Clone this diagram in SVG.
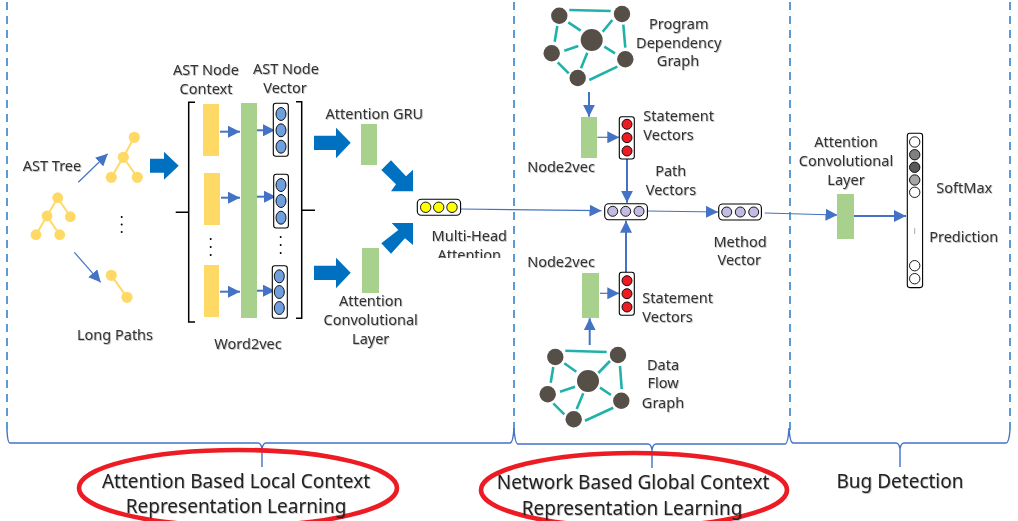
<svg xmlns="http://www.w3.org/2000/svg" width="1018" height="521" viewBox="0 0 1018 521">
<style>
text{font-family:"Noto Sans","Liberation Sans",sans-serif;font-size:14.5px;fill:#333;text-anchor:middle;filter:url(#soft)}
.big{font-size:19px;fill:#222}
.s{text-anchor:start}
.dash{fill:none;stroke:#5b9bd5;stroke-width:2;stroke-dasharray:8 6;stroke-dashoffset:12}
.brace{fill:none;stroke:#4472c4;stroke-width:1.4}
.ring{fill:none;stroke:#ed1c24;stroke-width:4.600}
.c{fill:none;stroke:#4472c4;stroke-width:1.2;marker-end:url(#head)}
.t{fill:none;stroke:#4472c4;stroke-width:2;marker-end:url(#head)}
.big-arrow{fill:#0070c0}
.g{fill:#a9d18e}
.y{fill:#ffd966}
.yl{stroke:#ffd966;stroke-width:2;fill:none}
.box{fill:#fff;stroke:#000;stroke-width:1.1}
.b{fill:#6f9fdc;stroke:#000;stroke-width:.9}
.r{fill:#ed1c24;stroke:#000;stroke-width:.9}
.p{fill:#c4bbe3;stroke:#000;stroke-width:.9}
.ye{fill:#ff0;stroke:#000;stroke-width:.9}
.w{stroke:#000;stroke-width:.9}
.br{fill:none;stroke:#000;stroke-width:1.5}
.dot{fill:#000}
.ge{stroke:#20b2aa;stroke-width:2.600;fill:none}
.gn{fill:#564f48}
</style>
<defs>
<filter id="soft" x="-5%" y="-10%" width="110%" height="125%"><feDropShadow dx="0.8" dy="0.8" stdDeviation="0.7" flood-color="#000" flood-opacity="0.3"/></filter>
<marker id="head" viewBox="0 0 12 12" refX="12" refY="6" markerWidth="12" markerHeight="12" markerUnits="userSpaceOnUse" orient="auto"><path d="M0 0L12 6L0 12Z" fill="#4472c4"/></marker>
<clipPath id="cut"><rect x="420" y="225" width="100" height="33"/></clipPath>
</defs>

<g id="section-lines">
<path class="dash" d="M7 0V430M514 0V430M790 0V430M1010 0V430"/>
<path class="brace" d="M7 430Q7.500 443 10 443H258Q261 443 262 449Q263 443 266 443H510Q513 443 514 428Q515 444 518 444H648Q651 444 652 450Q653 444 656 444H785Q788 444 789 428Q790 443 793 443H896Q899 443 900 449Q901 443 904 443H1006Q1009 443 1010 430"/>
<path class="brace" d="M262 449V467M652 450V468M900 449V467"/>
</g>

<g id="connectors">
<path class="c" d="M78.300 182.300L107.700 153.700"/>
<path class="c" d="M74.300 252.300L100.700 282.300"/>
<path class="t" d="M220 131.700H240"/>
<path class="t" d="M221 197.700H240"/>
<path class="t" d="M220 291.700H240"/>
<path class="t" d="M257 130.300H275"/>
<path class="t" d="M257 196.700H276"/>
<path class="t" d="M257 290.700H275"/>
<path class="c" d="M460.700 209L601.500 210.700"/>
<path class="c" d="M647.300 211L718 212"/>
<path class="c" d="M764.700 213L837.500 215"/>
<path class="t" d="M854 216H906"/>
<path class="t" d="M589 92V116.700"/>
<path class="c" d="M597.300 137.300H619.300"/>
<path class="t" d="M627 159V202.700"/>
<path class="c" d="M600 293.300H619.300"/>
<path class="t" d="M626 273.300V220.700"/>
<path class="t" d="M589.700 345V318.300"/>
</g>

<g id="flow-arrows">
<path class="big-arrow" d="M150 158.700H164V151.700L178.700 165.700L164 179.700V172.700H150Z"/>
<path class="big-arrow" d="M314 135.700H336V127.700L350.700 142.700L336 158.300V150H314Z"/>
<path class="big-arrow" d="M314 265.700H336V257.700L350.700 272.700L336 288.300V280H314Z"/>
<path class="big-arrow" d="M391 160.300L381.300 170L396 184.300L391 191.300H413V169.700L406 176.300Z"/>
<path class="big-arrow" d="M381.300 243.300L391 253.700L405 238.300L413 245V223H391.700L398.300 230Z"/>
</g>

<g id="ast-tree">
<path class="yl" d="M57.700 197.700L47 216L36 234.700M57.700 197.700L70.300 216.700M47 216L59.700 234.700"/>
<circle class="y" cx="57.700" cy="197.700" r="5.400"/><circle class="y" cx="47" cy="216" r="5.400"/><circle class="y" cx="70.300" cy="216.700" r="5.400"/><circle class="y" cx="36" cy="234.700" r="5.400"/><circle class="y" cx="59.700" cy="234.700" r="5.400"/>
<text x="52" y="170.700">AST Tree</text>
</g>
<g id="subtree">
<path class="yl" d="M134.300 137.300L123.300 157.300L111.300 177.300M123.300 157.300L137.300 177.300"/>
<circle class="y" cx="134.300" cy="137.300" r="5.600"/><circle class="y" cx="123.300" cy="157.300" r="5.600"/><circle class="y" cx="111.300" cy="177.300" r="5.600"/><circle class="y" cx="137.300" cy="177.300" r="5.600"/>
<circle class="dot" cx="121.700" cy="217" r="1"/><circle class="dot" cx="121.700" cy="224.500" r="1"/><circle class="dot" cx="121.700" cy="232" r="1"/>
</g>
<g id="long-path">
<path class="yl" d="M111.300 275.300L127 297.300"/>
<circle class="y" cx="111.300" cy="275.300" r="5.600"/><circle class="y" cx="127" cy="297.300" r="5.600"/>
<text x="115" y="340">Long Paths</text>
</g>

<g id="word2vec-block">
<path class="br" d="M195 102.300H188.700V322H195M175.700 212.300H188.700M296 101.700H301.700V318.300H296M301.700 210.300H315"/>
<text x="206" y="75">AST Node</text><text x="206" y="94">Context</text>
<text x="286" y="74">AST Node</text><text x="285" y="92.700">Vector</text>
<rect class="y" x="203" y="104" width="16" height="52"/><rect class="y" x="204" y="173" width="16" height="52"/><rect class="y" x="204" y="265" width="15" height="52"/>
<circle class="dot" cx="210.700" cy="239" r="1"/><circle class="dot" cx="210.700" cy="247" r="1"/><circle class="dot" cx="210.700" cy="255" r="1"/>
<rect class="g" x="241" y="103" width="16" height="215"/>
<text x="248" y="349">Word2vec</text>
</g>
<g id="node-vectors">
<rect class="box" x="273.300" y="103.300" width="15" height="53" rx="2.500"/>
<ellipse class="b" cx="281" cy="114" rx="5" ry="6.500"/><ellipse class="b" cx="281" cy="130.300" rx="5" ry="6.500"/><ellipse class="b" cx="281" cy="146.700" rx="5" ry="6.500"/>
<rect class="box" x="273.700" y="174.300" width="14.700" height="53.700" rx="2.500"/>
<ellipse class="b" cx="281" cy="185" rx="5" ry="6.500"/><ellipse class="b" cx="281" cy="201" rx="5" ry="6.500"/><ellipse class="b" cx="281" cy="217.700" rx="5" ry="6.500"/>
<circle class="dot" cx="280.700" cy="237" r="1"/><circle class="dot" cx="280.700" cy="245" r="1"/><circle class="dot" cx="280.700" cy="253" r="1"/>
<rect class="box" x="272.300" y="265.700" width="15" height="52.600" rx="2.500"/>
<ellipse class="b" cx="279.300" cy="276.300" rx="5" ry="6.500"/><ellipse class="b" cx="279.300" cy="292" rx="5" ry="6.500"/><ellipse class="b" cx="279.300" cy="308" rx="5" ry="6.500"/>
</g>

<g id="attention-gru"><rect class="g" x="361" y="124" width="16" height="41"/><text x="374.300" y="119">Attention GRU</text></g>
<g id="attention-conv"><rect class="g" x="362" y="248" width="17" height="45"/><text x="370.700" y="306">Attention</text><text x="370.700" y="325">Convolutional</text><text x="370.700" y="344">Layer</text></g>
<g id="multi-head">
<rect class="box" x="417.300" y="199.300" width="43.300" height="16" rx="4"/>
<circle class="ye" cx="425.700" cy="207.300" r="5.200"/><circle class="ye" cx="438.700" cy="207.300" r="5.200"/><circle class="ye" cx="452" cy="207.300" r="5.200"/>
<text x="469.300" y="240.700">Multi-Head</text>
<g clip-path="url(#cut)"><text x="469.300" y="259.500">Attention</text></g>
</g>

<g id="program-dependency-graph">
<path class="ge" d="M569.300 10L610.700 11M568.300 22.300L580.700 30.700M557.300 26L554.700 41.700M612.300 20L602.700 31.700M623.300 24.700L625.300 47.700M564.300 50.700L578.300 46M604.300 46.700L615 53.300M587.300 52.700L581 68.300M557.700 62.300L568.700 73.300M589.300 80L617.300 66.700"/>
<circle class="gn" cx="559.300" cy="15.700" r="8.200"/><circle class="gn" cx="622" cy="14" r="8.200"/><circle class="gn" cx="591.700" cy="40" r="11"/><circle class="gn" cx="551.700" cy="53.300" r="8.200"/><circle class="gn" cx="625.300" cy="59.300" r="8.200"/><circle class="gn" cx="577.700" cy="78" r="8.200"/>
<text x="678.700" y="29">Program</text><text x="678.700" y="47.500">Dependency</text><text x="678" y="66">Graph</text>
</g>
<g id="node2vec-top"><rect class="g" x="581" y="117" width="16" height="41"/><text x="561" y="171.700">Node2vec</text></g>
<g id="statement-top">
<rect class="box" x="619.300" y="116.700" width="15" height="42.300" rx="2.500"/>
<circle class="r" cx="627" cy="124.300" r="5"/><circle class="r" cx="627" cy="137.700" r="5"/><circle class="r" cx="627" cy="151" r="5"/>
<text class="s" x="643.300" y="120.700">Statement</text><text class="s" x="643.300" y="140">Vectors</text>
</g>
<g id="path-vectors">
<rect class="box" x="604.700" y="203.700" width="42.700" height="16" rx="4"/>
<circle class="p" cx="612.700" cy="211.300" r="5"/><circle class="p" cx="625.700" cy="211.300" r="5"/><circle class="p" cx="639" cy="211.300" r="5"/>
<text x="670.700" y="175.700">Path</text><text x="671" y="195">Vectors</text>
</g>
<g id="method-vector">
<rect class="box" x="718.700" y="204" width="42.700" height="16" rx="4"/>
<circle class="p" cx="726.700" cy="212" r="5"/><circle class="p" cx="740.300" cy="212" r="5"/><circle class="p" cx="753.700" cy="212" r="5"/>
<text x="740" y="246.700">Method</text><text x="739.300" y="265">Vector</text>
</g>
<g id="node2vec-bottom"><rect class="g" x="582" y="273" width="17" height="45"/><text x="561" y="266.700">Node2vec</text></g>
<g id="statement-bottom">
<rect class="box" x="619.300" y="272.300" width="15" height="43" rx="2.500"/>
<circle class="r" cx="627" cy="280.700" r="5"/><circle class="r" cx="627" cy="293.700" r="5"/><circle class="r" cx="627" cy="307" r="5"/>
<text class="s" x="642.300" y="302.700">Statement</text><text class="s" x="642.300" y="321.700">Vectors</text>
</g>
<g id="data-flow-graph">
<path class="ge" d="M565.300 350.700L606.700 352M564.300 363.300L576.300 371.700M553.300 367L550.700 382.700M610 361L598.300 373M620 366L621.700 389M560 391.700L575 386.700M600 387.700L611 395M583.300 393.300L576.700 409M553.300 403.300L564.300 414.300M585 420.700L613.300 407.700"/>
<circle class="gn" cx="555.300" cy="357" r="8.200"/><circle class="gn" cx="618" cy="355" r="8.200"/><circle class="gn" cx="588" cy="381" r="11"/><circle class="gn" cx="547.700" cy="394.300" r="8.200"/><circle class="gn" cx="621.300" cy="400.700" r="8.200"/><circle class="gn" cx="573.700" cy="419.300" r="8.200"/>
<text x="663" y="370">Data</text><text x="663" y="388.300">Flow</text><text x="663" y="407.700">Graph</text>
</g>

<g id="attention-conv-2"><rect class="g" x="837" y="194" width="17" height="45"/><text x="846" y="146.700">Attention</text><text x="846" y="165.700">Convolutional</text><text x="846" y="185">Layer</text></g>
<g id="softmax">
<rect class="box" x="907.300" y="133.300" width="15.300" height="154.300" rx="2.500"/>
<circle class="w" cx="914.700" cy="142" r="5.200" fill="#fff"/><circle class="w" cx="914.700" cy="154.700" r="5.200" fill="#7f7f7f"/><circle class="w" cx="914.700" cy="167.300" r="5.200" fill="#595959"/><circle class="w" cx="914.700" cy="180" r="5.200" fill="#a6a6a6"/><circle class="w" cx="914.700" cy="192.300" r="5.200" fill="#fff"/><circle class="w" cx="914.700" cy="265.700" r="5.200" fill="#fff"/><circle class="w" cx="914.700" cy="278.700" r="5.200" fill="#fff"/>
<path d="M914.700 228.500V233.500" stroke="#555" stroke-width="1" stroke-dasharray="1 1"/>
<text x="964.300" y="192.700">SoftMax</text><text x="963.700" y="242.300">Prediction</text>
</g>

<g id="section-local">
<ellipse class="ring" cx="238" cy="488" rx="159" ry="38"/>
<text class="big" x="236" y="488">Attention Based Local Context</text><text class="big" x="236" y="513">Representation Learning</text>
</g>
<g id="section-global">
<ellipse class="ring" cx="634" cy="490" rx="153" ry="37"/>
<text class="big" x="633" y="489">Network Based Global Context</text><text class="big" x="632" y="515">Representation Learning</text>
</g>
<g id="section-bug"><text class="big" x="900" y="488">Bug Detection</text></g>
</svg>
